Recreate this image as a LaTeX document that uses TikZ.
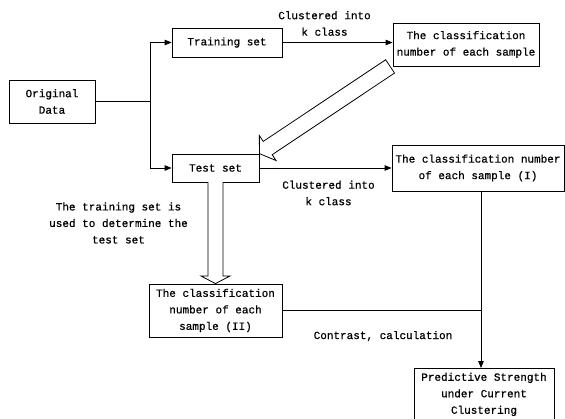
\documentclass[tikz,border=0pt]{standalone}
\usepackage{fontspec}
\newfontfamily\diagfont{Liberation Mono}[FakeBold=0.7]
\usetikzlibrary{arrows.meta,calc}
\begin{document}
\begin{tikzpicture}[x=1pt,y=-1pt,
  every node/.style={font=\diagfont\fontsize{11}{16.5}\selectfont, align=center, inner sep=0pt},
  box/.style={draw, line width=0.8pt},
  link/.style={line width=0.8pt, -{Triangle[length=7pt,width=5.5pt]}},
  plain/.style={line width=0.8pt},
  hollow/.style={draw, line width=0.8pt, fill=white, line join=miter}]
\useasboundingbox (0,0) rectangle (565,418);
\clip (0,0) rectangle (565,418);

% boxes
\node[box, minimum width=86pt, minimum height=43pt] (orig) at (52,101.5) {Original\\Data};
\node[box, minimum width=110pt, minimum height=29pt] (train) at (227,42.5) {Training set};
\node[box, minimum width=87pt, minimum height=28pt] (test) at (215.5,168) {Test set};
\node[box, minimum width=146pt, minimum height=43pt] (cls) at (466,44.5) {The classification\\number of each sample};
\node[box, minimum width=172pt, minimum height=46pt] (clsI) at (478,168) {The classification number\\of each sample (I)};
\node[box, minimum width=133pt, minimum height=53pt] (clsII) at (215.5,310.5) {The classification\\number of each\\sample (II)};
\node[box, minimum width=140pt, minimum height=52pt, anchor=north] (pred) at (484,368) {Predictive Strength\\under Current\\Clustering};

% labels
\node (lab1) at (324.5,23.5) {Clustered into\\k class};
\node (lab2) at (328.5,193) {Clustered into\\k class};
\node (lab3) at (118.5,223) {The training set is\\used to determine the\\test set};
\node (lab4) at (383,336) {Contrast, calculation};

% split of the original data
\draw[plain] (orig.east) -- ++(55,0) coordinate (fork);
\draw[link] (fork) |- (train.west);
\draw[link] (fork) |- (test.west);

% clustering arrows
\draw[link] (train.east) -- (train.east -| cls.west);
\draw[link] (test.east) -- (test.east -| clsI.west);

% comparison of the two classifications
\coordinate (join) at (481,310.5);
\draw[plain] (clsII.east) -- (join);
\draw[link] (clsI.south -| join) -- (pred.north -| join);

% hollow arrow: test set -> classification (II)
\draw[hollow] (208,182) -- (208,276) -- (201,276) -- (clsII.north) -- (230,276) -- (223,276) -- (223,182);

% hollow arrow: classification of training samples -> test set
\coordinate (tl) at ($(cls.south west)+(-2.5,0)$);
\coordinate (tp) at (test.north east);
\coordinate (hb) at ($(tp)!10pt!(tl)$);
\draw[hollow] ($(tl)!8pt!90:(tp)$) -- ($(hb)!8pt!-90:(tl)$) -- ($(hb)!15pt!-90:(tl)$) -- (tp)
  -- ($(hb)!15pt!90:(tl)$) -- ($(hb)!8pt!90:(tl)$) -- ($(tl)!8pt!-90:(tp)$) -- cycle;
\end{tikzpicture}
\end{document}
